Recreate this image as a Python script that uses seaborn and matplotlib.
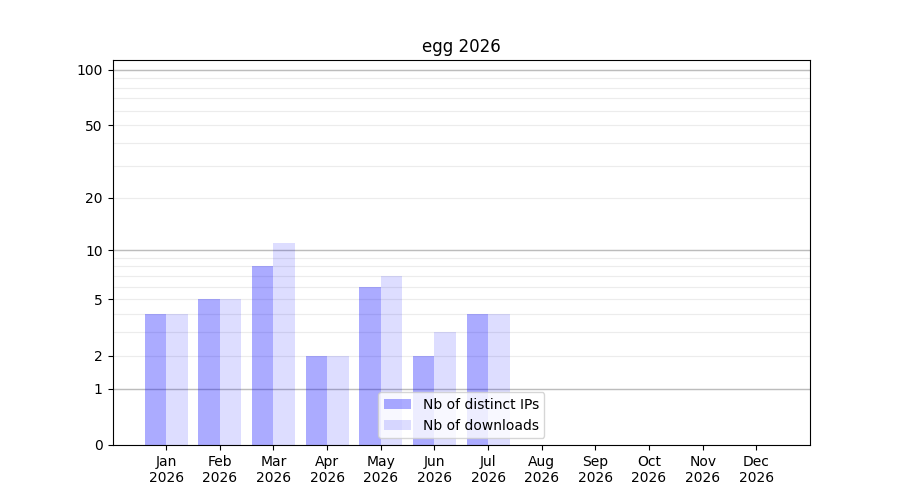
import numpy as np
import pandas as pd
import matplotlib
matplotlib.use('Agg')
import matplotlib.pyplot as plt
import seaborn as sns

# ─── data ─────────────────────────────────────────────────────────
months = ['Jan', 'Feb', 'Mar', 'Apr', 'May', 'Jun', 'Jul',
          'Aug', 'Sep', 'Oct', 'Nov', 'Dec']
year = '2026'
distinct_ips = [4, 5, 8, 2, 6, 2, 4]
downloads    = [4, 5, 11, 2, 7, 3, 4]
series_names = ['Nb of distinct IPs', 'Nb of downloads']

y_major = [0, 1, 2, 5, 10, 20, 50, 100]
y_minor = [3, 4, 6, 7, 8, 9, 30, 40, 60, 70, 80, 90]
y_strong = [1, 10, 100]

n = len(distinct_ips)
df = pd.DataFrame({
    'month': months[:n] * 2,
    'value': distinct_ips + downloads,
    'series': [series_names[0]] * n + [series_names[1]] * n,
})

# ─── plot ─────────────────────────────────────────────────────────
fig, ax = plt.subplots(figsize=(9, 5), dpi=100)

palette = {series_names[0]: (0, 0, 1, 0.33), series_names[1]: (0, 0, 1, 0.135)}
sns.barplot(data=df, x='month', y='value', hue='series', order=months,
            hue_order=series_names, palette=palette, width=0.8,
            saturation=1, ax=ax, zorder=2)

# y = log10(1 + x)
ax.set_yscale('function', functions=(lambda v: np.log10(1 + np.clip(v, 0, None)),
                                     lambda v: 10 ** v - 1))
ax.set_ylim(0, 113)
ax.set_xlim(-1, 12)

ax.set_yticks(y_major)
ax.set_yticklabels([str(v) for v in y_major])
ax.set_yticks(y_minor, minor=True)
ax.tick_params(axis='y', which='minor', length=0)
ax.set_axisbelow(True)
ax.yaxis.grid(True, which='both', color='#ececec', linewidth=0.8)
# darker lines at each decade, above the light grid but under the bars
for v in y_strong:
    ax.axhline(v, color='#bcbcbc', linewidth=1.0, zorder=1.8)

ax.set_xticks(range(len(months)))
ax.set_xticklabels([f'{m}\n{year}' for m in months])
ax.set_xlabel('')
ax.set_ylabel('')
ax.set_title(f'egg {year}')

sns.move_legend(ax, 'lower center', title=None)

plt.savefig('out.png')
